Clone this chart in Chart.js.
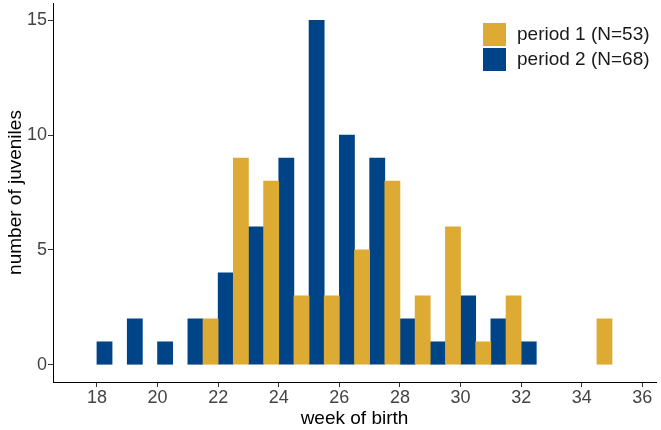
<!DOCTYPE html>
<html>
<head>
<meta charset="utf-8">
<script src="https://cdn.jsdelivr.net/npm/chart.js@4/dist/chart.umd.min.js"></script>
<style>
  html, body { margin: 0; padding: 0; background: #fff; }
  #wrap { width: 661px; height: 430px; }
</style>
</head>
<body>
<div id="wrap"><canvas id="chart1"></canvas></div>
<script>
// weeks 18..35
const weeks = [18, 19, 20, 21, 22, 23, 24, 25, 26, 27, 28, 29, 30, 31, 32, 33, 34, 35];
const period1 = [0, 0, 0, 0, 2, 9, 8, 3, 3, 5, 8, 3, 6, 1, 3, 0, 0, 2];
const period2 = [1, 2, 1, 2, 4, 6, 9, 15, 10, 9, 2, 1, 3, 2, 1, 0, 0, 0];
const xTicks = [18, 20, 22, 24, 26, 28, 30, 32, 34, 36];
const yTicks = [0, 5, 10, 15];
const labels = ['period 1 (N=53)', 'period 2 (N=68)'];

const font = 'Liberation Sans, Arial, Helvetica, sans-serif';

// empty weeks get no bar at all
function pts(vals) {
    return weeks.map((w, i) => ({ x: w, y: vals[i] === 0 ? null : vals[i] }));
}

// legend drawn inside the plot, top right
const boxLegend = {
    id: 'boxLegend',
    afterDraw(chart) {
        const c = chart.ctx;
        c.save();
        c.font = '19px ' + font;
        c.textBaseline = 'middle';
        chart.data.datasets.forEach((ds, i) => {
            const y = 23 + i * 25;
            c.fillStyle = ds.backgroundColor;
            c.fillRect(483, y, 23, 23);
            c.fillStyle = '#1a1a1a';
            c.fillText(ds.label, 517, y + 12);
        });
        c.restore();
    }
};

const ctx = document.getElementById('chart1');
const chart1 = new Chart(ctx, {
    type: 'bar',
    data: {
        datasets: [
            { label: labels[0], data: pts(period1), backgroundColor: '#DDAA33' },
            { label: labels[1], data: pts(period2), backgroundColor: '#004488' }
        ]
    },
    options: {
        responsive: true,
        maintainAspectRatio: false,
        animation: false,
        layout: { padding: { top: 3, right: 5, left: 0, bottom: 0 } },
        datasets: { bar: { categoryPercentage: 1, barPercentage: 1 } },
        plugins: { legend: { display: false }, tooltip: { enabled: false } },
        scales: {
            x: {
                type: 'linear',
                offset: false,
                min: 16.55,
                max: 36.45,
                afterBuildTicks: s => { s.ticks = xTicks.map(v => ({ value: v })); },
                afterFit: s => { s.height = 48; s.paddingLeft = 0; s.paddingRight = 0; },
                grid: { offset: false, drawOnChartArea: false, drawTicks: true, tickLength: 5, color: '#333' },
                border: { display: true, color: '#000', width: 1 },
                ticks: { font: { size: 18, family: font }, color: '#444', padding: 0, maxRotation: 0 },
                title: { display: true, text: 'week of birth', font: { size: 19, family: font }, color: '#000', padding: 0 }
            },
            y: {
                min: -0.75,
                max: 15.75,
                afterBuildTicks: s => { s.ticks = yTicks.map(v => ({ value: v })); },
                afterFit: s => { s.width = 53; s.paddingTop = 0; s.paddingBottom = 0; },
                grid: { offset: false, drawOnChartArea: false, drawTicks: true, tickLength: 5, color: '#333' },
                border: { display: true, color: '#000', width: 1 },
                ticks: { font: { size: 18, family: font }, color: '#444', padding: 1 },
                title: { display: true, text: 'number of juveniles', font: { size: 19, family: font }, color: '#000', padding: { top: 4, bottom: 0 } }
            }
        }
    },
    plugins: [boxLegend]
});
</script>
</body>
</html>
